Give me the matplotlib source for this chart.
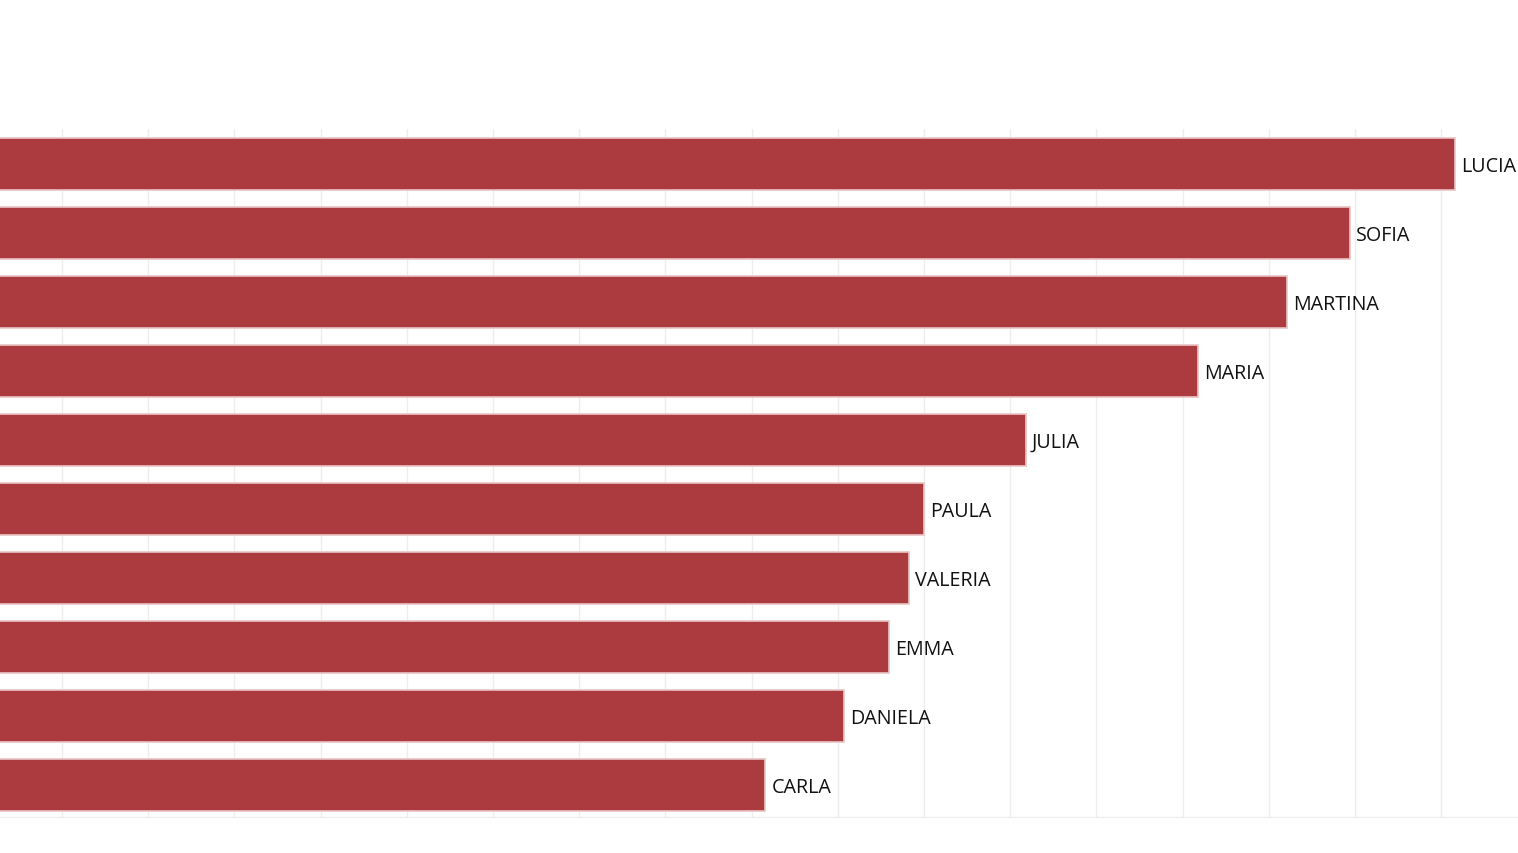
import matplotlib.pyplot as plt

nombres = ['LUCIA', 'SOFIA', 'MARTINA', 'MARIA', 'JULIA',
           'PAULA', 'VALERIA', 'EMMA', 'DANIELA', 'CARLA']
valores = [17.16, 15.94, 15.21, 14.18, 12.18, 11.0, 10.83, 10.59, 10.07, 9.16]

plt.rcParams['font.family'] = ['Open Sans', 'DejaVu Sans']

fig = plt.figure(figsize=(15.18, 8.54), dpi=100)
W, H = 1518.0, 854.0
# el eje empieza un poco fuera del borde izquierdo
ax = fig.add_axes([-24.2 / W, 1 - 818 / H, (1518 + 24.2) / W, (818 - 130) / H])

pos = list(range(len(nombres)))
barras = ax.barh(pos, valores, height=0.75, color='#ab3b3e',
                 edgecolor='#e9c4c4', linewidth=1.2, zorder=3)

for i, b in enumerate(barras):
    ax.annotate(nombres[i], (b.get_width(), b.get_y() + b.get_height() / 2),
                xytext=(4.3, -1.2), textcoords='offset points',
                va='center', ha='left', fontsize=14.2, color='#111111')

ax.set_xlim(0, (1518 + 24.2) / 86.2)
ax.set_ylim(9.46, -0.51)
ax.set_xticks([k for k in range(1, 18)])
ax.grid(axis='x', color='#ededed', linewidth=1, zorder=0)
ax.tick_params(left=False, bottom=False, labelleft=False, labelbottom=False)
for s in ['top', 'left', 'right']:
    ax.spines[s].set_visible(False)
ax.spines['bottom'].set_color('#ececec')

fig.savefig('out.png', dpi=100, facecolor='white')
